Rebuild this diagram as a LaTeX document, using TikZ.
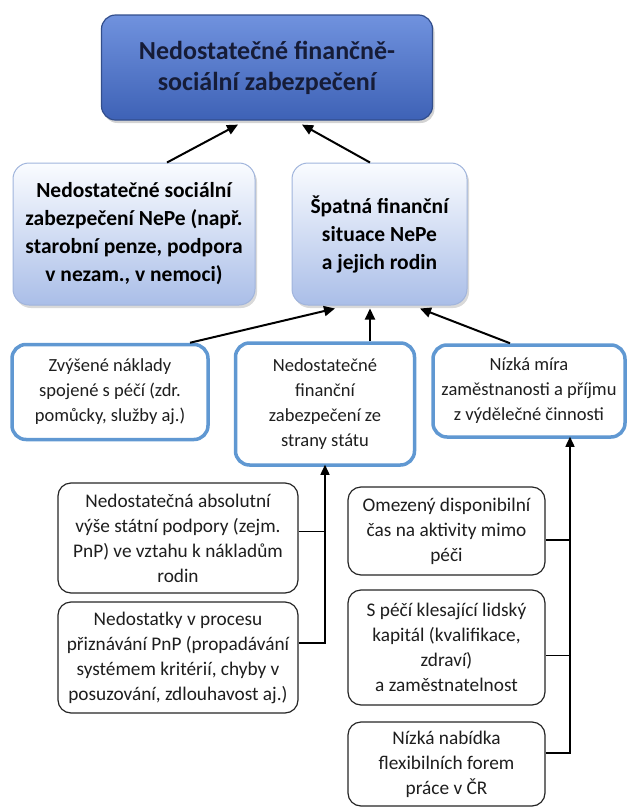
\documentclass[tikz,border=0pt]{standalone}
\usepackage{fontspec}
\setmainfont{Carlito}
\usetikzlibrary{arrows.meta,shadows,calc}
\definecolor{topborder}{RGB}{50,78,140}
\definecolor{toptop}{RGB}{112,146,222}
\definecolor{topbot}{RGB}{62,98,182}
\definecolor{toptext}{RGB}{22,28,55}
\definecolor{ltwoborder}{RGB}{160,180,220}
\definecolor{ltwotop}{RGB}{250,252,255}
\definecolor{ltwobot}{RGB}{170,190,232}
\definecolor{lthreeborder}{RGB}{96,152,210}
\definecolor{bodytext}{RGB}{30,30,30}
\begin{document}
\begin{tikzpicture}[x=1pt,y=-1pt,
  topbox/.style={draw=topborder, line width=1.2pt, rounded corners=14pt,
    top color=toptop, bottom color=topbot,
    drop shadow={opacity=0.35, shadow xshift=2pt, shadow yshift=-3pt},
    font=\bfseries\fontsize{26}{31}\selectfont, text=toptext, align=center,
    inner sep=0pt, minimum width=331pt, minimum height=105pt},
  ltwobox/.style={draw=ltwoborder, line width=1pt, rounded corners=16pt,
    top color=ltwotop, bottom color=ltwobot,
    drop shadow={opacity=0.3, shadow xshift=2pt, shadow yshift=-3pt},
    font=\bfseries\fontsize{21.5}{28}\selectfont, text=black, align=center,
    inner sep=0pt, minimum height=142pt},
  lthreebox/.style={draw=lthreeborder, line width=3.5pt, rounded corners=14pt,
    fill=white, font=\fontsize{18.5}{25}\selectfont, text=bodytext, align=center,
    inner sep=0pt},
  lfourbox/.style={draw=black!85, line width=1.2pt, rounded corners=13pt,
    fill=white, font=\fontsize{19.3}{25}\selectfont, text=bodytext, align=center,
    inner sep=0pt, minimum width=197pt},
  arr/.style={draw=black, line width=2pt, -{Triangle[length=11pt,width=10pt]}},
  conn/.style={draw=black, line width=1.4pt},
  carr/.style={draw=black, line width=1.4pt, -{Triangle[length=10pt,width=9pt]}}
]
\useasboundingbox (0,0) rectangle (627,809);

% top
\node[topbox] (top) at (267,67.5) {Nedostatečné finančně-\\sociální zabezpečení};

% level 2
\node[ltwobox, minimum width=242pt] (Ltwoa) at (134,234) {Nedostatečné sociální\\zabezpečení NePe (např.\\starobní penze, podpora\\v nezam., v nemoci)};
\node[ltwobox, minimum width=175pt] (Ltwob) at (379.5,234) {Špatná finanční\\situace NePe\\a jejich rodin};

% level 3
\node[lthreebox, minimum width=196pt, minimum height=95pt] (Lthreea) at (110,392) {Zvýšené náklady\\spojené s péčí (zdr.\\pomůcky, služby aj.)};
\node[lthreebox, minimum width=179pt, minimum height=122pt] (Lthreeb) at (325,404) {Nedostatečné\\finanční\\zabezpečení ze\\strany státu};
\node[lthreebox, minimum width=192pt, minimum height=92pt] (Lthreec) at (529,391) {Nízká míra\\zaměstnanosti a příjmu\\z výdělečné činnosti};

% level 4 left
\node[lfourbox, minimum width=240pt, minimum height=110pt] (Lfoura) at (178,538) {Nedostatečná absolutní\\výše státní podpory (zejm.\\PnP) ve vztahu k nákladům\\rodin};
\node[lfourbox, minimum width=240pt, minimum height=111pt] (Lfourb) at (178,657.5) {Nedostatky v procesu\\přiznávání PnP (propadávání\\systémem kritérií, chyby v\\posuzování, zdlouhavost aj.)};

% level 4 right
\node[lfourbox, minimum height=88pt] (Lfourc) at (446.5,531) {Omezený disponibilní\\čas na aktivity mimo\\péči};
\node[lfourbox, minimum height=115pt] (Lfourd) at (446.5,647.5) {S péčí klesající lidský\\kapitál (kvalifikace,\\zdraví)\\a zaměstnatelnost};
\node[lfourbox, minimum height=84pt] (Lfoure) at (446.5,764) {Nízká nabídka\\flexibilních forem\\práce v ČR};

% arrows level 2 -> top
\draw[arr] ([xshift=33pt]Ltwoa.north) -- ([xshift=-29pt,yshift=-4pt]top.south);
\draw[arr] ([xshift=-9.5pt]Ltwob.north) -- ([xshift=35pt,yshift=-4pt]top.south);

% arrows level 3 -> level 2
\coordinate (mid) at ([xshift=-9.5pt,yshift=-3pt]Ltwob.south);
\draw[arr] ([xshift=80pt]Lthreea.north) -- ([xshift=-44.5pt,yshift=-3pt]Ltwob.south);
\draw[arr] (Lthreeb.north -| mid) -- (mid);
\draw[arr] ([xshift=-19pt]Lthreec.north) -- ([xshift=40.5pt,yshift=-3pt]Ltwob.south);

% level 4 left -> level 3b
\draw[conn] ($(Lfoura.north east)!0.44!(Lfoura.south east)$) -- ++(27,0);
\draw[carr] ($(Lfourb.north east)!0.37!(Lfourb.south east)$) -| ([yshift=2pt]Lthreeb.south);

% level 4 right -> level 3c
\coordinate (rv) at ([xshift=41pt,yshift=2pt]Lthreec.south);
\draw[conn] ($(Lfourc.north east)!0.6!(Lfourc.south east)$) -- ++(25,0);
\draw[conn] ($(Lfourd.north east)!0.57!(Lfourd.south east)$) -- ++(25,0);
\draw[carr] ($(Lfoure.north east)!0.37!(Lfoure.south east)$) -| (rv);
\end{tikzpicture}
\end{document}
